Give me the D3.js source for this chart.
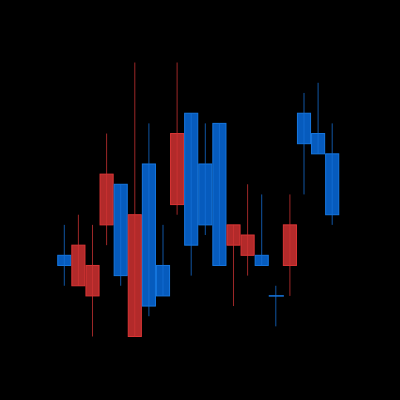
<!DOCTYPE html>
<html><head><meta charset="utf-8">
<script src="https://cdn.jsdelivr.net/npm/d3@7"></script>
<style>html,body{margin:0;padding:0;background:#000;}svg{display:block;}</style>
</head><body>
<svg id="c" width="400" height="400"></svg>
<script>
const labels = d3.range(1, 21).map(String);
const open  = [7, 9, 7, 16, 6, 12, 3, 4, 20, 9, 11, 7, 11, 10, 7, 4, 11, 19, 18, 12];
const high  = [11, 12, 11, 20, 15, 27, 21, 11, 27, 22, 21, 21, 11, 15, 14, 5, 14, 24, 25, 21];
const low   = [5, 5, 0, 9, 5, 0, 2, 4, 12, 6, 10, 7, 3, 6, 7, 1, 4, 14, 18, 11];
const close = [8, 5, 4, 11, 15, 0, 17, 7, 13, 22, 17, 21, 9, 8, 8, 4, 7, 22, 20, 18];

const data = labels.map((l, i) => ({l, o: open[i], h: high[i], lo: low[i], c: close[i]}));
const svg = d3.select("#c");
svg.append("rect").attr("width", 400).attr("height", 400).attr("fill", "#000");

const x = d3.scaleBand().domain(labels).range([57.25, 339.25]).paddingInner(0).paddingOuter(0);
const y = d3.scaleLinear().domain([0, 27]).range([336.5, 62.5]);

const col = d => d.c >= d.o ? {fill: "#065bbd", stroke: "#1678e2", wick: "#1670d8"}
                            : {fill: "#b22a2a", stroke: "#dc3636", wick: "#d03434"};

const g = svg.append("g");
data.forEach(d => {
  const cx = x(d.l) + x.bandwidth() / 2;
  const c = col(d);
  const top = y(Math.max(d.o, d.c)), bot = y(Math.min(d.o, d.c));
  if (bot - top < 0.5) {
    g.append("line").attr("x1", x(d.l)).attr("x2", x(d.l) + x.bandwidth() + 1)
      .attr("y1", top).attr("y2", top).attr("stroke", c.stroke).attr("stroke-width", 1.5);
  } else {
    g.append("rect").attr("x", x(d.l) + 0.5).attr("y", top)
      .attr("width", x.bandwidth() - 1).attr("height", bot - top)
      .attr("fill", c.fill).attr("stroke", c.stroke).attr("stroke-width", 1);
  }
  g.append("line").attr("x1", cx).attr("x2", cx)
    .attr("y1", y(d.h)).attr("y2", y(d.lo))
    .attr("stroke", c.wick).attr("stroke-width", 1).attr("stroke-opacity", 0.75);
});
</script>
</body></html>
